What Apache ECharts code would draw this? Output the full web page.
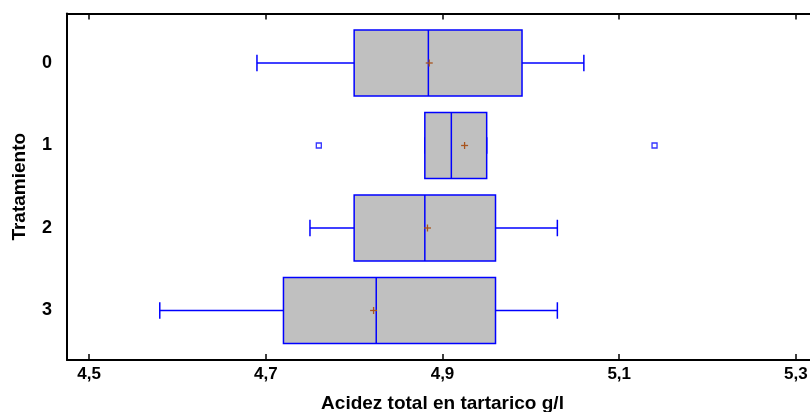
<!DOCTYPE html>
<html>
<head>
<meta charset="utf-8">
<script src="https://cdn.jsdelivr.net/npm/echarts@6/dist/echarts.min.js"></script>
<style>
html,body{margin:0;padding:0;background:#fff;}
#c{width:810px;height:412px;}
</style>
</head>
<body>
<div id="c"></div>
<script>
// ---- data ----
const categories = ['0', '1', '2', '3'];
const whiskerLow  = [4.69, 4.88, 4.75, 4.58];
const q1          = [4.80, 4.88, 4.80, 4.72];
const median      = [4.884, 4.91, 4.88, 4.825];
const q3          = [4.99, 4.95, 4.96, 4.96];
const whiskerHigh = [5.06, 4.95, 5.03, 5.03];
const means       = [4.885, 4.925, 4.883, 4.822];
const outlierCat  = [1, 1];
const outlierVal  = [4.76, 5.14];
const xTicks = [4.5, 4.7, 4.9, 5.1, 5.3];
const catTicks = [0, 1, 2, 3];

const BLUE = '#0000ff';
const FONT = 'Liberation Sans, Arial, sans-serif';

const boxData = categories.map((c, i) => [i, whiskerLow[i], q1[i], median[i], q3[i], whiskerHigh[i], means[i]]);
const outData = outlierVal.map((v, i) => [v, outlierCat[i]]);

function renderBox(params, api) {
  const cat = api.value(0);
  const lo = api.value(1), a = api.value(2), m = api.value(3), b = api.value(4), hi = api.value(5), mean = api.value(6);
  const half = 0.4, capHalf = 0.1;
  const pLoC = api.coord([lo, cat]);
  const pQ1T = api.coord([a, cat - half]);
  const pQ3B = api.coord([b, cat + half]);
  const pMT = api.coord([m, cat - half]);
  const pMB = api.coord([m, cat + half]);
  const pQ1C = api.coord([a, cat]);
  const pQ3C = api.coord([b, cat]);
  const pHiC = api.coord([hi, cat]);
  const capT = api.coord([lo, cat - capHalf]);
  const capB = api.coord([lo, cat + capHalf]);
  const capT2 = api.coord([hi, cat - capHalf]);
  const capB2 = api.coord([hi, cat + capHalf]);
  const pMean = api.coord([mean, cat]);
  const ls = { stroke: BLUE, lineWidth: 1.5 };
  const mc = '#a8541e';
  const children = [
    { type: 'line', shape: { x1: pLoC[0], y1: pLoC[1], x2: pQ1C[0], y2: pQ1C[1] }, style: ls },
    { type: 'line', shape: { x1: pQ3C[0], y1: pQ3C[1], x2: pHiC[0], y2: pHiC[1] }, style: ls },
    { type: 'line', shape: { x1: capT[0], y1: capT[1], x2: capB[0], y2: capB[1] }, style: ls },
    { type: 'line', shape: { x1: capT2[0], y1: capT2[1], x2: capB2[0], y2: capB2[1] }, style: ls },
    { type: 'rect', shape: { x: pQ1T[0], y: pQ1T[1], width: pQ3B[0] - pQ1T[0], height: pQ3B[1] - pQ1T[1] },
      style: { fill: '#c0c0c0', stroke: BLUE, lineWidth: 1.5 } },
    { type: 'line', shape: { x1: pMT[0], y1: pMT[1], x2: pMB[0], y2: pMB[1] }, style: ls },
    { type: 'line', shape: { x1: pMean[0] - 3.5, y1: pMean[1], x2: pMean[0] + 3.5, y2: pMean[1] }, style: { stroke: mc, lineWidth: 1.3 } },
    { type: 'line', shape: { x1: pMean[0], y1: pMean[1] - 3.5, x2: pMean[0], y2: pMean[1] + 3.5 }, style: { stroke: mc, lineWidth: 1.3 } }
  ];
  return { type: 'group', children: children };
}

const chart = echarts.init(document.getElementById('c'), null, { renderer: 'canvas' });
const fmt = v => String(Math.round(v * 10) / 10).replace('.', ',');
chart.setOption({
  animation: false,
  backgroundColor: '#ffffff',
  grid: { left: 67, top: 13.5, width: 751, height: 346.5, containLabel: false, outerBoundsMode: 'none' },
  xAxis: [{
    type: 'value', min: 4.475, max: 5.325, position: 'bottom',
    axisLine: { show: true, onZero: false, lineStyle: { color: '#000', width: 2 } },
    axisTick: { show: true, inside: true, length: 6, customValues: xTicks, lineStyle: { color: '#000', width: 1.5 } },
    axisLabel: { customValues: xTicks, formatter: fmt, color: '#000', fontFamily: FONT, fontWeight: 'bold', fontSize: 17, margin: 6 },
    splitLine: { show: false },
    name: 'Acidez total en tartarico g/l', nameLocation: 'middle', nameGap: 34,
    nameTextStyle: { color: '#000', fontFamily: FONT, fontWeight: 'bold', fontSize: 19 }
  }, {
    type: 'value', min: 4.475, max: 5.325, position: 'top',
    axisLine: { show: true, onZero: false, lineStyle: { color: '#000', width: 2 } },
    axisTick: { show: true, inside: true, length: 6, customValues: xTicks, lineStyle: { color: '#000', width: 1.5 } },
    axisLabel: { show: false },
    splitLine: { show: false }
  }],
  yAxis: [{
    type: 'value', min: -0.6, max: 3.6, inverse: true,
    axisLine: { show: true, onZero: false, lineStyle: { color: '#000', width: 2 } },
    axisTick: { show: false },
    axisLabel: { customValues: catTicks, formatter: v => categories[v], color: '#000', fontFamily: FONT, fontWeight: 'bold', fontSize: 18, margin: 15 },
    splitLine: { show: false },
    name: 'Tratamiento', nameLocation: 'middle', nameGap: 38,
    nameTextStyle: { color: '#000', fontFamily: FONT, fontWeight: 'bold', fontSize: 19 }
  }],
  series: [{
    type: 'custom', xAxisIndex: 0, yAxisIndex: 0,
    renderItem: renderBox,
    encode: { x: [1, 2, 3, 4, 5, 6], y: 0 },
    data: boxData,
    clip: false
  }, {
    type: 'scatter', xAxisIndex: 0, yAxisIndex: 0,
    symbol: 'rect', symbolSize: 5,
    itemStyle: { color: '#fff', borderColor: BLUE, borderWidth: 1.3 },
    data: outData
  }]
});
</script>
</body>
</html>
